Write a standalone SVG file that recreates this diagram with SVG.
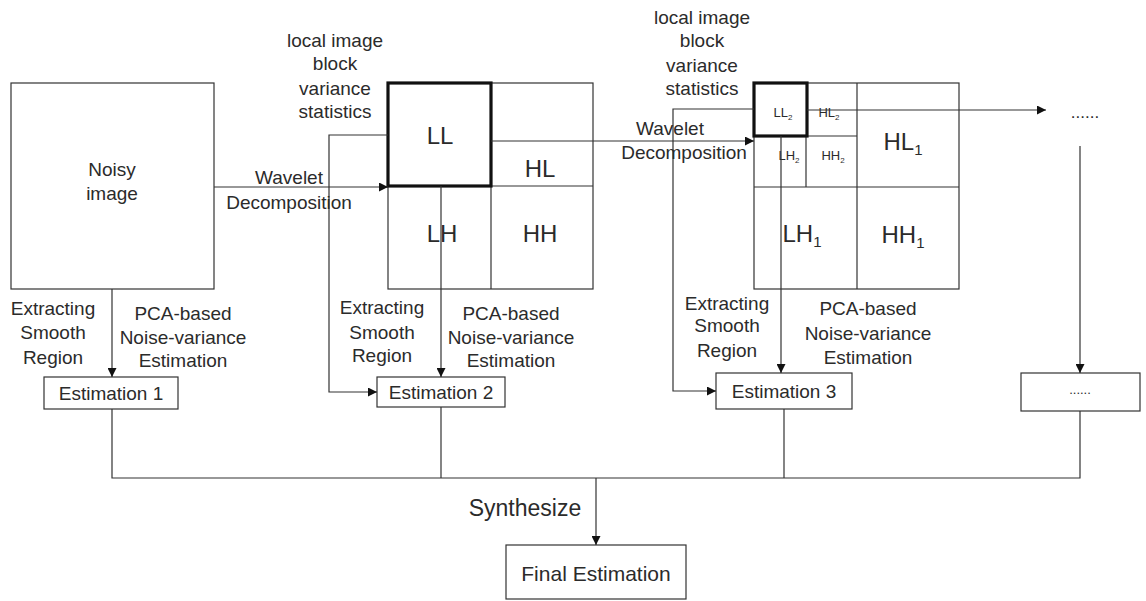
<svg xmlns="http://www.w3.org/2000/svg" width="1146" height="601" viewBox="0 0 1146 601">
  <style>
    text { font-family: "Liberation Sans", Arial, sans-serif; fill: #2b2b2b; text-anchor: middle; }
    .t { font-size: 19px; }
    .band { font-size: 24px; }
    .sub { font-size: 15px; }
    .tiny { font-size: 13px; }
    .tinysub { font-size: 8px; }
    .box { fill: #fff; stroke: #333; stroke-width: 1.2; }
    .thick { fill: none; stroke: #111; stroke-width: 3.2; }
    .ln { fill: none; stroke: #333; stroke-width: 1.2; }
  </style>
  <defs>
    <marker id="arr" viewBox="0 0 10 10" refX="10" refY="5" markerWidth="9" markerHeight="9" markerUnits="userSpaceOnUse" orient="auto">
      <path d="M0,0 L10,5 L0,10 z" fill="#111"/>
    </marker>
  </defs>
  <rect width="1146" height="601" fill="#fff"/>

  <!-- noisy input image -->
  <g id="noisy-image">
    <rect class="box" x="11" y="83" width="203" height="206"/>
    <text class="t" x="112" y="176">Noisy</text>
    <text class="t" x="112" y="200">image</text>
  </g>

  <!-- first-level wavelet subbands -->
  <g id="level1-grid">
    <rect class="box" x="388" y="83" width="205" height="206"/>
    <line class="ln" x1="491" y1="83" x2="491" y2="289"/>
    <line class="ln" x1="388" y1="186" x2="593" y2="186"/>
    <rect class="thick" x="388" y="83" width="103" height="103"/>
    <text class="band" x="440" y="144">LL</text>
    <text class="band" x="540" y="177">HL</text>
    <text class="band" x="442" y="242">LH</text>
    <text class="band" x="540" y="242">HH</text>
  </g>

  <!-- second-level wavelet subbands -->
  <g id="level2-grid">
    <rect class="box" x="754" y="83" width="205" height="206"/>
    <line class="ln" x1="857" y1="83" x2="857" y2="289"/>
    <line class="ln" x1="754" y1="187" x2="959" y2="187"/>
    <line class="ln" x1="754" y1="136" x2="857" y2="136"/>
    <line class="ln" x1="806" y1="136" x2="806" y2="187"/>
    <rect class="thick" x="754" y="83" width="53" height="53"/>
    <text class="tiny" x="783" y="117">LL<tspan class="tinysub" dy="3">2</tspan></text>
    <text class="tiny" x="829" y="117">HL<tspan class="tinysub" dy="3">2</tspan></text>
    <text class="tiny" x="789" y="160">LH<tspan class="tinysub" dy="3">2</tspan></text>
    <text class="tiny" x="833" y="160">HH<tspan class="tinysub" dy="3">2</tspan></text>
    <text class="band" x="903" y="150">HL<tspan class="sub" dy="5">1</tspan></text>
    <text class="band" x="802" y="242">LH<tspan class="sub" dy="5">1</tspan></text>
    <text class="band" x="903" y="243">HH<tspan class="sub" dy="5">1</tspan></text>
  </g>

  <!-- estimation boxes -->
  <g id="estimation-1">
    <rect class="box" x="44" y="377" width="134" height="32"/>
    <text class="t" x="111" y="400">Estimation 1</text>
  </g>
  <g id="estimation-2">
    <rect class="box" x="377" y="377" width="128" height="30"/>
    <text class="t" x="441" y="399">Estimation 2</text>
  </g>
  <g id="estimation-3">
    <rect class="box" x="716" y="373" width="136" height="36"/>
    <text class="t" x="784" y="398">Estimation 3</text>
  </g>
  <g id="estimation-more">
    <rect class="box" x="1021" y="373" width="119" height="38"/>
    <text class="tiny" x="1080" y="394">......</text>
  </g>
  <g id="final-estimation">
    <rect class="box" x="506" y="545" width="180" height="54"/>
    <text style="font-size:21px" x="596" y="581">Final Estimation</text>
  </g>
  <g id="more-levels">
    <text style="font-size:17px" x="1085" y="118">......</text>
  </g>

  <!-- connectors -->
  <g id="connectors">
    <line class="ln" x1="214" y1="187" x2="388" y2="187" marker-end="url(#arr)"/>
    <line class="ln" x1="112" y1="289" x2="112" y2="377" marker-end="url(#arr)"/>
    <polyline class="ln" points="388,135 329,135 329,392 377,392" marker-end="url(#arr)"/>
    <line class="ln" x1="441" y1="186" x2="441" y2="377" marker-end="url(#arr)"/>
    <line class="ln" x1="491" y1="141" x2="754" y2="141" marker-end="url(#arr)"/>
    <polyline class="ln" points="754,109 673,109 673,391 716,391" marker-end="url(#arr)"/>
    <line class="ln" x1="781" y1="136" x2="781" y2="373" marker-end="url(#arr)"/>
    <line class="ln" x1="807" y1="110" x2="1046" y2="110" marker-end="url(#arr)"/>
    <line class="ln" x1="1080" y1="146" x2="1080" y2="373" marker-end="url(#arr)"/>
    <polyline class="ln" points="112,409 112,478 1080,478 1080,411"/>
    <line class="ln" x1="441" y1="407" x2="441" y2="478"/>
    <line class="ln" x1="784" y1="409" x2="784" y2="478"/>
    <line class="ln" x1="596" y1="478" x2="596" y2="545" marker-end="url(#arr)"/>
  </g>

  <!-- connector labels -->
  <g id="labels">
    <text class="t" x="289" y="184">Wavelet</text>
    <text class="t" x="289" y="209">Decomposition</text>
    <text class="t" x="670" y="135">Wavelet</text>
    <text class="t" x="684" y="159">Decomposition</text>

    <text class="t" x="335" y="47">local image</text>
    <text class="t" x="335" y="70">block</text>
    <text class="t" x="335" y="95">variance</text>
    <text class="t" x="335" y="118">statistics</text>

    <text class="t" x="702" y="24">local image</text>
    <text class="t" x="702" y="47">block</text>
    <text class="t" x="702" y="72">variance</text>
    <text class="t" x="702" y="95">statistics</text>

    <text class="t" x="53" y="315">Extracting</text>
    <text class="t" x="53" y="339">Smooth</text>
    <text class="t" x="53" y="364">Region</text>
    <text class="t" x="183" y="320">PCA-based</text>
    <text class="t" x="183" y="344">Noise-variance</text>
    <text class="t" x="183" y="367">Estimation</text>

    <text class="t" x="382" y="314">Extracting</text>
    <text class="t" x="382" y="339">Smooth</text>
    <text class="t" x="382" y="362">Region</text>
    <text class="t" x="511" y="320">PCA-based</text>
    <text class="t" x="511" y="344">Noise-variance</text>
    <text class="t" x="511" y="367">Estimation</text>

    <text class="t" x="727" y="310">Extracting</text>
    <text class="t" x="727" y="332">Smooth</text>
    <text class="t" x="727" y="357">Region</text>
    <text class="t" x="868" y="315">PCA-based</text>
    <text class="t" x="868" y="340">Noise-variance</text>
    <text class="t" x="868" y="364">Estimation</text>

    <text style="font-size:23px" x="525" y="516">Synthesize</text>
  </g>
</svg>
